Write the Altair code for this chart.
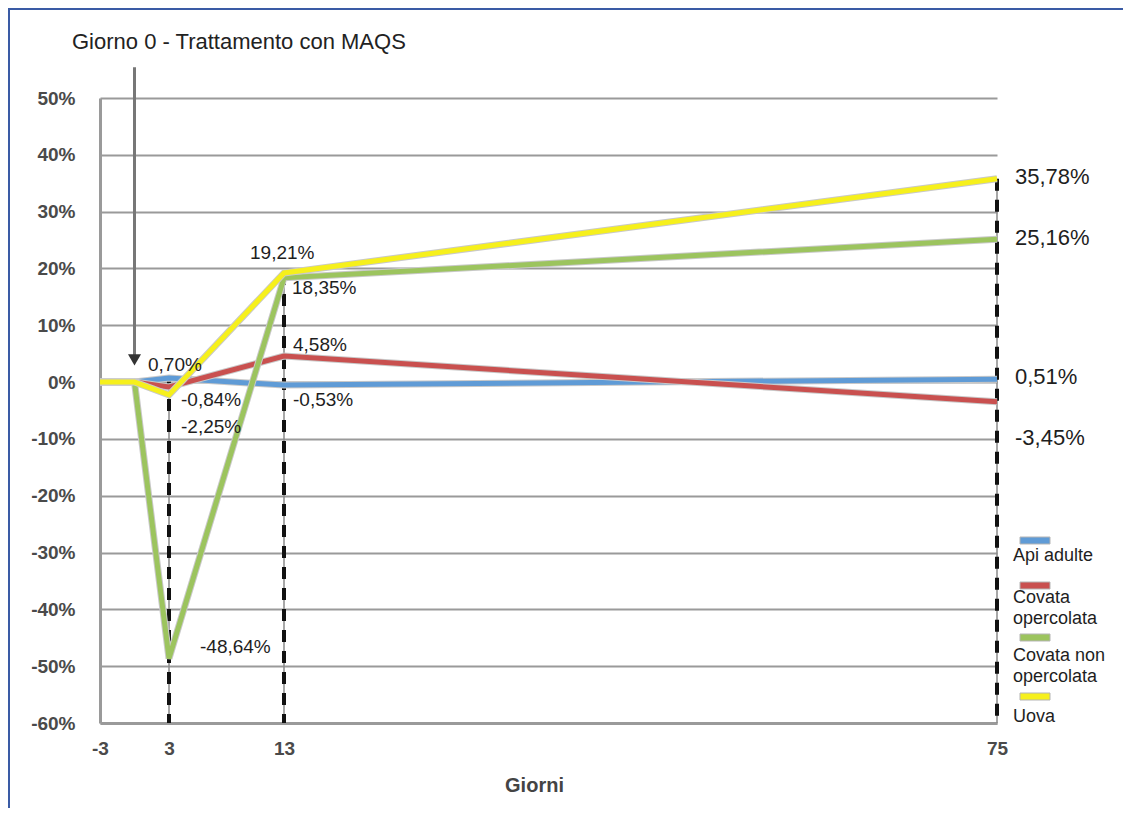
import altair as alt
import pandas as pd

# ---------------- data ----------------
days = [-3, 0, 3, 13, 75]
series_names = ["Api adulte", "Covata opercolata", "Covata non opercolata", "Uova"]
api_adulte = [0.0, 0.0, 0.70, -0.53, 0.51]
covata_opercolata = [0.0, 0.0, -0.84, 4.58, -3.45]
covata_non_opercolata = [0.0, 0.0, -48.64, 18.35, 25.16]
uova = [0.0, 0.0, -2.25, 19.21, 35.78]
series_values = [api_adulte, covata_opercolata, covata_non_opercolata, uova]
series_colors = ["#5f9bd6", "#c9504f", "#9cc45e", "#f6f01c"]

x_ticks = [-3, 3, 13, 75]
y_ticks = [-60, -50, -40, -30, -20, -10, 0, 10, 20, 30, 40, 50]
marker_days = [3, 13, 75]

arrow_day = 0
arrow_top = 55.4
arrow_tip = 3.9
title_text = "Giorno 0 - Trattamento con MAQS"

legend_lines = [["Api adulte"], ["Covata", "opercolata"], ["Covata non", "opercolata"], ["Uova"]]

# label (series index, day) -> (dx, dy, font size)
label_style = {
    (0, 3): (-21, -13, 19), (1, 3): (12, 13, 19), (3, 3): (12, 32, 19), (2, 3): (31, -11, 19),
    (3, 13): (-34, -20, 19), (2, 13): (8, 10, 19), (1, 13): (9, -11, 19), (0, 13): (9, 15, 19),
    (3, 75): (18, -2, 22), (2, 75): (18, -1, 22), (0, 75): (18, -2, 22), (1, 75): (18, 36, 22),
}

FONT = "Liberation Sans"

rows = []
for name, vals in zip(series_names, series_values):
    for d, v in zip(days, vals):
        rows.append({"serie": name, "giorno": d, "valore": v})
df = pd.DataFrame(rows)

vl = pd.DataFrame({
    "giorno": marker_days,
    "top": [max(vals[days.index(d)] for vals in series_values) for d in marker_days],
    "bottom": [y_ticks[0]] * len(marker_days),
})

x_scale = alt.Scale(domain=[x_ticks[0], x_ticks[-1]], nice=False, zero=False)
y_scale = alt.Scale(domain=[y_ticks[0], y_ticks[-1]], nice=False, zero=False)

x_axis = alt.Axis(
    values=x_ticks, labelExpr="'' + datum.value", title="Giorni", grid=False, ticks=False,
    domainColor="#9a9a9a", domainWidth=3,
    labelFont=FONT, labelFontSize=19, labelFontWeight="bold", labelColor="#4a4a4a",
    labelPadding=16, labelFlush=False, labelOverlap=False,
    titleFont=FONT, titleFontSize=20, titleFontWeight="bold", titleColor="#444444",
    titleX=434, titleY=62, titleBaseline="middle", titleAlign="center")
y_axis = alt.Axis(
    values=y_ticks, labelExpr="datum.value + '%'", title=None, grid=True,
    gridColor="#9a9a9a", gridWidth=2, ticks=False,
    domainColor="#9a9a9a", domainWidth=3,
    labelFont=FONT, labelFontSize=19, labelFontWeight="bold", labelColor="#4a4a4a",
    labelPadding=25, labelFlush=False, labelOverlap=False)

X = lambda f: alt.X(f, type="quantitative", scale=x_scale, axis=x_axis)
Y = lambda f: alt.Y(f, type="quantitative", scale=y_scale, axis=y_axis)

one = pd.DataFrame({"k": [0]})
layers = []

# vertical marker lines
layers.append(alt.Chart(vl).mark_rule(color="#8a8a8a", strokeWidth=1.5).encode(
    x=X("giorno"), y=Y("top"), y2="bottom"))
layers.append(alt.Chart(vl).mark_rule(color="#111111", strokeWidth=4, strokeDash=[12, 9]).encode(
    x=X("giorno"), y=Y("top"), y2="bottom"))

# arrow
arrow_df = pd.DataFrame({"giorno": [arrow_day], "top": [arrow_top], "tip": [arrow_tip]})
layers.append(alt.Chart(arrow_df).mark_rule(color="#777777", strokeWidth=3).encode(
    x=X("giorno"), y=Y("top"), y2="tip"))
layers.append(alt.Chart(arrow_df).mark_point(shape="triangle-down", filled=True, size=170,
                                               color="#333333", opacity=1).encode(
    x=X("giorno"), y=Y("tip")))

# series lines
for name, col in zip(series_names, series_colors):
    sub = df[df["serie"] == name]
    layers.append(alt.Chart(sub).mark_line(color="#c9c9c9", strokeWidth=7, strokeJoin="miter").encode(
        x=X("giorno"), y=Y("valore")))
    layers.append(alt.Chart(sub).mark_line(color=col, strokeWidth=5, strokeJoin="miter").encode(
        x=X("giorno"), y=Y("valore")))

# value labels
def fmt(v):
    return f"{v:.2f}".replace(".", ",") + "%"

for (si, d), (dx, dy, fs) in label_style.items():
    v = series_values[si][days.index(d)]
    row = pd.DataFrame({"giorno": [d], "valore": [v], "testo": [fmt(v)]})
    layers.append(alt.Chart(row).mark_text(align="left", baseline="middle", dx=dx, dy=dy,
                                           font=FONT, fontSize=fs, color="#1e1e1e").encode(
        x=X("giorno"), y=Y("valore"), text="testo:N"))

# title text
layers.append(alt.Chart(one).mark_text(align="left", baseline="middle", font=FONT, fontSize=22,
                                       color="#222222").encode(
    x=alt.value(-28), y=alt.value(-56), text=alt.value(title_text)))

# custom legend
swatch_y = [439, 484, 536, 595]
text_top = [449, 491, 549, 610]
for col, lines, sy, ty in zip(series_colors, legend_lines, swatch_y, text_top):
    layers.append(alt.Chart(one).mark_rect(color=col, stroke="#b5b5b5", strokeWidth=1).encode(
        x=alt.value(920), x2=alt.value(950), y=alt.value(sy), y2=alt.value(sy + 7)))
    layers.append(alt.Chart(one).mark_text(align="left", baseline="top", font=FONT,
                                           fontSize=18, lineHeight=21, color="#1e1e1e").encode(
        x=alt.value(913), y=alt.value(ty), text=alt.value(lines)))

# frame lines
layers.append(alt.Chart(one).mark_rule(color="#3a5ba5", strokeWidth=2).encode(
    x=alt.value(-92), x2=alt.value(1023), y=alt.value(-89)))
layers.append(alt.Chart(one).mark_rule(color="#3a5ba5", strokeWidth=2).encode(
    x=alt.value(-91), y=alt.value(-90), y2=alt.value(710)))

chart = alt.layer(*layers).properties(
    width=897, height=625,
    autosize=alt.AutoSizeParams(type="none"),
    padding={"left": 92, "top": 90, "right": 126, "bottom": 85},
    background="white",
).configure_view(stroke=None)

chart.save("out.html", embed_options={"renderer": "svg", "actions": False})
